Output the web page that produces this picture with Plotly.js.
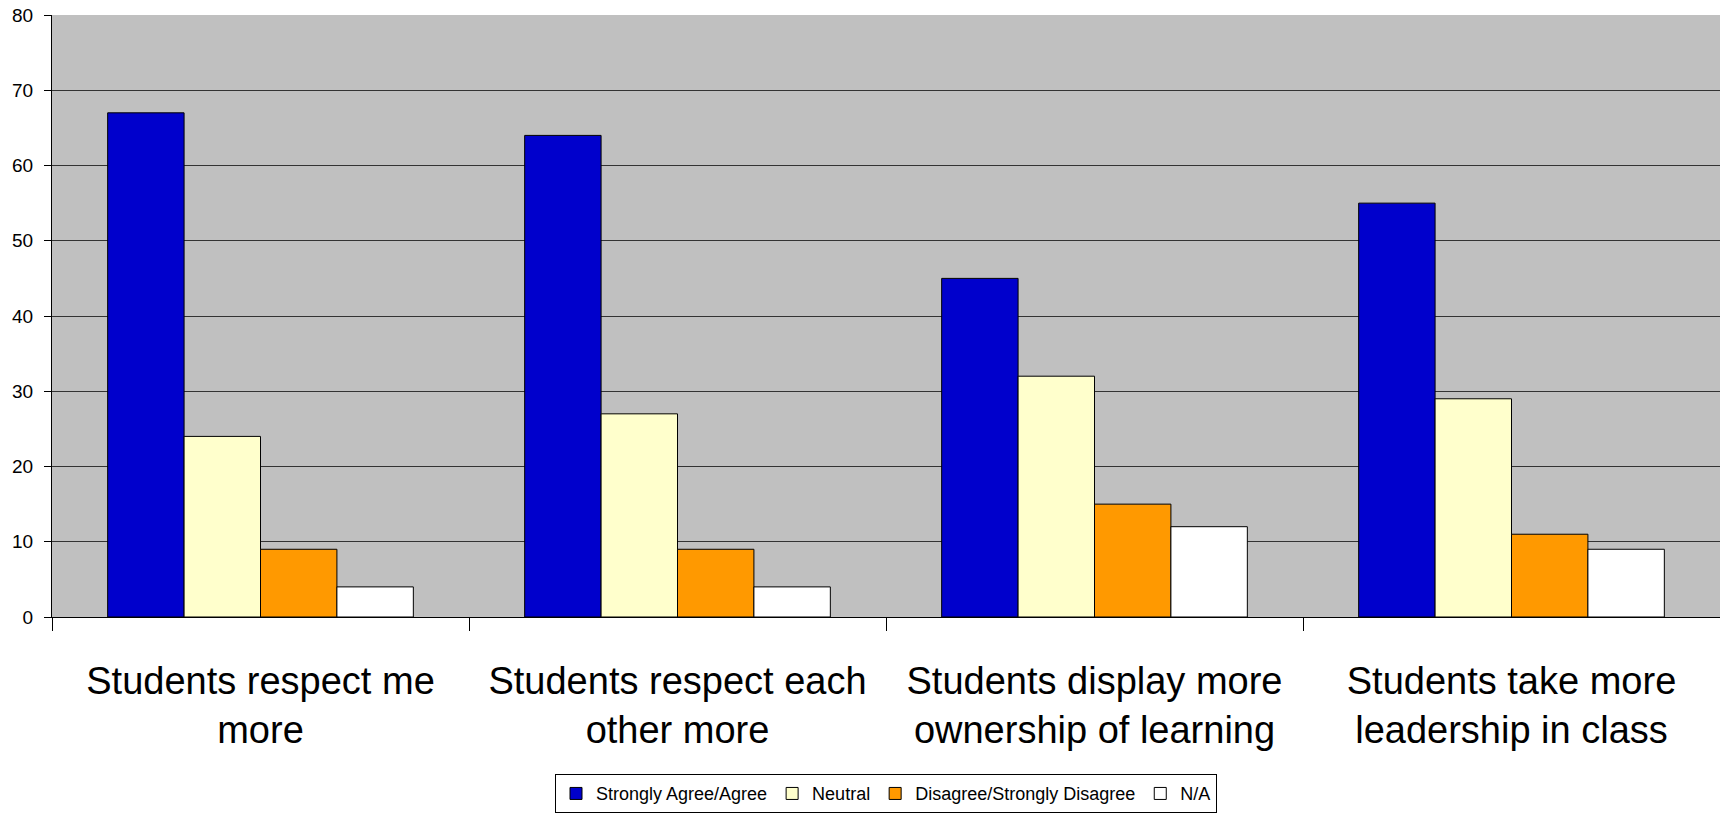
<!DOCTYPE html>
<html>
<head>
<meta charset="utf-8">
<script src="https://cdn.plot.ly/plotly-3.0.1.min.js"></script>
<style>html,body{margin:0;padding:0;background:#fff;}#chart{width:1720px;height:815px;}</style>
</head>
<body>
<div id="chart"></div>
<script>
const categories = [
  "Students respect me<br>more",
  "Students respect each<br>other more",
  "Students display more<br>ownership of learning",
  "Students take more<br>leadership in class"
];
const seriesNames = ["Strongly Agree/Agree", "Neutral", "Disagree/Strongly Disagree", "N/A"];
const agreeValues = [67, 64, 45, 55];
const neutralValues = [24, 27, 32, 29];
const disagreeValues = [9, 9, 15, 11];
const naValues = [4, 4, 12, 9];
const yTicks = [0, 10, 20, 30, 40, 50, 60, 70, 80];

const colors = ["#0000CC", "#FFFFCC", "#FF9900", "#FFFFFF"];
const allValues = [agreeValues, neutralValues, disagreeValues, naValues];

const traces = allValues.map((vals, i) => ({
  type: "bar",
  name: seriesNames[i],
  x: categories,
  y: vals,
  marker: {color: colors[i], line: {color: "#000000", width: 1}},
  hoverinfo: "y"
}));

const layout = {
  width: 1720,
  height: 815,
  margin: {l: 52, r: 0, t: 15, b: 198, pad: 0, autoexpand: false},
  paper_bgcolor: "#FFFFFF",
  plot_bgcolor: "#C0C0C0",
  barmode: "group",
  bargap: 0.267,
  bargroupgap: 0,
  font: {family: "Liberation Sans, Arial, sans-serif", color: "#000000"},
  showlegend: true,
  legend: {
    orientation: "h",
    xref: "paper",
    x: 0.5, xanchor: "center",
    yref: "container",
    y: 0.05, yanchor: "top",
    bordercolor: "#000000", borderwidth: 1,
    bgcolor: "#FFFFFF",
    font: {size: 18},
    traceorder: "normal",
    itemwidth: 30
  },
  xaxis: {
    type: "category",
    automargin: false,
    tickson: "boundaries",
    ticks: "outside",
    ticklen: 13,
    tickcolor: "#000000",
    showline: true,
    linecolor: "#000000",
    showgrid: false,
    tickfont: {size: 38},
    ticklabelstandoff: 30
  },
  yaxis: {
    range: [0, 80],
    automargin: false,
    tickvals: yTicks,
    ticktext: yTicks.map(String),
    ticks: "outside",
    ticklen: 7,
    tickcolor: "#000000",
    showline: true,
    linecolor: "#000000",
    showgrid: true,
    gridcolor: "#333333",
    gridwidth: 1,
    zeroline: true,
    zerolinecolor: "#000000",
    tickfont: {size: 19},
    ticklabelstandoff: 7,
    fixedrange: true
  }
};

Plotly.newPlot("chart", traces, layout, {displayModeBar: false, staticPlot: true});
</script>
</body>
</html>
